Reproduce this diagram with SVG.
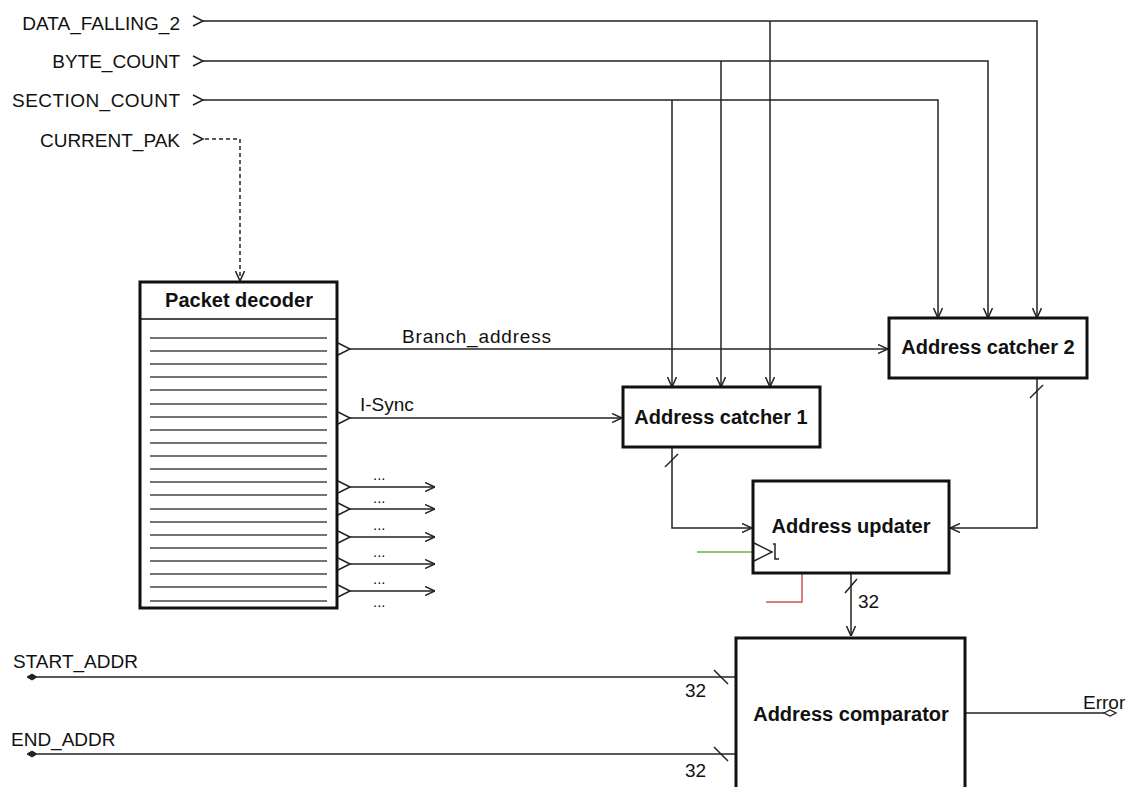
<svg xmlns="http://www.w3.org/2000/svg" width="1126" height="787" viewBox="0 0 1126 787">
<defs>
<marker id="arr" viewBox="0 0 10 10" refX="10" refY="5" markerWidth="10" markerHeight="10" markerUnits="userSpaceOnUse" orient="auto">
<path d="M0,0.5 L10,5 L0,9.5" fill="none" stroke="#222" stroke-width="1.5"/>
</marker>
<style>
text{font-family:"Liberation Sans",Arial,sans-serif;font-size:19px;fill:#111}
.b{font-weight:bold;font-size:20px}
.m{text-anchor:middle}
.e{text-anchor:end}
.dots{font-size:15px}
.w{stroke:#222;stroke-width:1.5;fill:none}
.box{stroke:#111;stroke-width:3;fill:#fff}
.pin{stroke:#222;stroke-width:1.5;fill:none}
.row{stroke:#444;stroke-width:1.5}
</style>
</defs>
<rect width="1126" height="787" fill="#fff"/>

<g id="connectors">
<path class="w" d="M203,21 H1037 V318" marker-end="url(#arr)"/>
<path class="w" d="M770,21 V387" marker-end="url(#arr)"/>
<path class="w" d="M203,61 H988 V318" marker-end="url(#arr)"/>
<path class="w" d="M721,61 V387" marker-end="url(#arr)"/>
<path class="w" d="M203,100 H938 V318" marker-end="url(#arr)"/>
<path class="w" d="M672,100 V387" marker-end="url(#arr)"/>
<path class="w" d="M205,139 H240 V281" stroke-dasharray="4,3" marker-end="url(#arr)"/>
<path class="w" d="M350,349 H888" marker-end="url(#arr)"/>
<path class="w" d="M350,418 H622" marker-end="url(#arr)"/>
<path class="w" d="M350,487 H435" marker-end="url(#arr)"/>
<path class="w" d="M350,509 H435" marker-end="url(#arr)"/>
<path class="w" d="M350,537 H435" marker-end="url(#arr)"/>
<path class="w" d="M350,564 H435" marker-end="url(#arr)"/>
<path class="w" d="M350,591 H435" marker-end="url(#arr)"/>
<path class="w" d="M672,447 V528 H752" marker-end="url(#arr)"/>
<path class="w" d="M1037,378 V528 H950" marker-end="url(#arr)"/>
<path class="w" d="M665,467 L678,454"/>
<path class="w" d="M1030,398 L1043,385"/>
<path d="M697,552 H754" stroke="#6ab04c" stroke-width="1.5" fill="none"/>
<path d="M802,574 V602 H766" stroke="#d05050" stroke-width="1.5" fill="none"/>
<path class="w" d="M851,574 V636" marker-end="url(#arr)"/>
<path class="w" d="M845,593 L857,579"/>
<path class="w" d="M37,677 H735"/>
<path d="M27,677 L32,674 L37,677 L32,680 Z" fill="#222" stroke="#222" stroke-width="1"/>
<path class="w" d="M714,670 L728,684"/>
<path class="w" d="M37,754 H735"/>
<path d="M27,754 L32,751 L37,754 L32,757 Z" fill="#222" stroke="#222" stroke-width="1"/>
<path class="w" d="M714,747 L728,761"/>
<path class="w" d="M966,713 H1104"/>
<path d="M1104,713 L1110,710 L1116,713 L1110,716 Z" fill="#fff" stroke="#222" stroke-width="1.3"/>
</g>

<g id="inputs">
<text class="e" x="180" y="30">DATA_FALLING_2</text>
<polyline class="pin" points="193,16 203,21 193,26"/>
<text class="e" x="180" y="68">BYTE_COUNT</text>
<polyline class="pin" points="193,56 203,61 193,66"/>
<text class="e" x="180" y="107" textLength="168">SECTION_COUNT</text>
<polyline class="pin" points="193,95 203,100 193,105"/>
<text class="e" x="180" y="147">CURRENT_PAK</text>
<polyline class="pin" points="193,134 203,139 193,144"/>
</g>

<g id="packet-decoder">
<rect class="box" x="140" y="282" width="197" height="326"/>
<line x1="140" y1="319" x2="337" y2="319" stroke="#111" stroke-width="1.5"/>
<text class="b m" x="239" y="307">Packet decoder</text>
<g class="row">
<line x1="150" y1="338" x2="327" y2="338"/><line x1="150" y1="351" x2="327" y2="351"/>
<line x1="150" y1="364" x2="327" y2="364"/><line x1="150" y1="377" x2="327" y2="377"/>
<line x1="150" y1="390" x2="327" y2="390"/><line x1="150" y1="404" x2="327" y2="404"/>
<line x1="150" y1="417" x2="327" y2="417"/><line x1="150" y1="430" x2="327" y2="430"/>
<line x1="150" y1="443" x2="327" y2="443"/><line x1="150" y1="456" x2="327" y2="456"/>
<line x1="150" y1="469" x2="327" y2="469"/><line x1="150" y1="482" x2="327" y2="482"/>
<line x1="150" y1="495" x2="327" y2="495"/><line x1="150" y1="509" x2="327" y2="509"/>
<line x1="150" y1="522" x2="327" y2="522"/><line x1="150" y1="535" x2="327" y2="535"/>
<line x1="150" y1="548" x2="327" y2="548"/><line x1="150" y1="561" x2="327" y2="561"/>
<line x1="150" y1="574" x2="327" y2="574"/><line x1="150" y1="587" x2="327" y2="587"/>
<line x1="150" y1="601" x2="327" y2="601"/>
</g>
<g class="pin">
<polyline points="338,343 350,349 338,355"/>
<polyline points="338,412 350,418 338,424"/>
<polyline points="338,481 350,487 338,493"/>
<polyline points="338,503 350,509 338,515"/>
<polyline points="338,531 350,537 338,543"/>
<polyline points="338,558 350,564 338,570"/>
<polyline points="338,585 350,591 338,597"/>
</g>
<text x="402" y="343" textLength="149">Branch_address</text>
<text x="360" y="411">I-Sync</text>
<text class="dots" x="373" y="480">...</text>
<text class="dots" x="373" y="503">...</text>
<text class="dots" x="373" y="530">...</text>
<text class="dots" x="373" y="557">...</text>
<text class="dots" x="373" y="584">...</text>
<text class="dots" x="373" y="607">...</text>
</g>

<g id="address-catcher-1">
<rect class="box" x="623" y="387" width="197" height="60"/>
<text class="b m" x="721" y="424">Address catcher 1</text>
</g>

<g id="address-catcher-2">
<rect class="box" x="889" y="318" width="198" height="60"/>
<text class="b m" x="988" y="354">Address catcher 2</text>
</g>

<g id="address-updater">
<rect class="box" x="753" y="481" width="196" height="92"/>
<text class="b m" x="851" y="533">Address updater</text>
<polyline class="pin" points="754,543 772,552 754,561"/>
<polyline class="pin" points="773,544 775,544 775,559 779,559"/>
<text x="858" y="608">32</text>
</g>

<g id="address-comparator">
<rect class="box" x="736" y="638" width="229" height="170"/>
<text class="b m" x="851" y="721">Address comparator</text>
</g>

<g id="ports">
<text x="13" y="668">START_ADDR</text>
<text x="11" y="746">END_ADDR</text>
<text x="685" y="697">32</text>
<text x="685" y="777">32</text>
<text x="1083" y="709">Error</text>
</g>
</svg>
